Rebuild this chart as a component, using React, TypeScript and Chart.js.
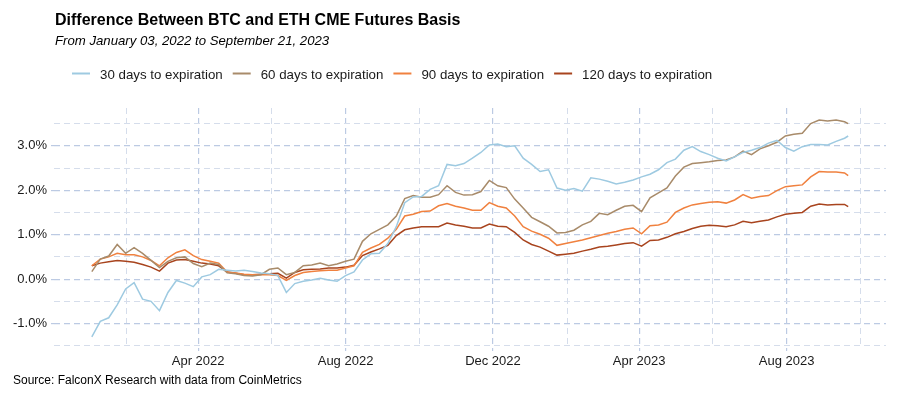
import React, { useEffect, useRef } from 'react';
import { Chart, registerables } from 'chart.js';

Chart.register(...registerables);

const FONT = '"Liberation Sans", Arial, Helvetica, sans-serif';

const TITLE = 'Difference Between BTC and ETH CME Futures Basis';
const SUBTITLE = 'From January 03, 2022 to September 21, 2023';
const CAPTION = 'Source: FalconX Research with data from CoinMetrics';

const DATES = [
  '2022-01-03', '2022-01-10', '2022-01-17', '2022-01-24', '2022-01-31',
  '2022-02-07', '2022-02-14', '2022-02-21', '2022-02-28',
  '2022-03-07', '2022-03-14', '2022-03-21', '2022-03-28',
  '2022-04-04', '2022-04-11', '2022-04-18', '2022-04-25',
  '2022-05-02', '2022-05-09', '2022-05-16', '2022-05-23', '2022-05-30',
  '2022-06-06', '2022-06-13', '2022-06-20', '2022-06-27',
  '2022-07-04', '2022-07-11', '2022-07-18', '2022-07-25',
  '2022-08-01', '2022-08-08', '2022-08-15', '2022-08-22', '2022-08-29',
  '2022-09-05', '2022-09-12', '2022-09-19', '2022-09-26',
  '2022-10-03', '2022-10-10', '2022-10-17', '2022-10-24', '2022-10-31',
  '2022-11-07', '2022-11-14', '2022-11-21', '2022-11-28',
  '2022-12-05', '2022-12-12', '2022-12-19', '2022-12-26',
  '2023-01-02', '2023-01-09', '2023-01-16', '2023-01-23', '2023-01-30',
  '2023-02-06', '2023-02-13', '2023-02-20', '2023-02-27',
  '2023-03-06', '2023-03-13', '2023-03-20', '2023-03-27',
  '2023-04-03', '2023-04-10', '2023-04-17', '2023-04-24',
  '2023-05-01', '2023-05-08', '2023-05-15', '2023-05-22', '2023-05-29',
  '2023-06-05', '2023-06-12', '2023-06-19', '2023-06-26',
  '2023-07-03', '2023-07-10', '2023-07-17', '2023-07-24', '2023-07-31',
  '2023-08-07', '2023-08-14', '2023-08-21', '2023-08-28',
  '2023-09-04', '2023-09-11', '2023-09-18', '2023-09-21',
];

const SERIES_LABELS = [
  '30 days to expiration',
  '60 days to expiration',
  '90 days to expiration',
  '120 days to expiration',
];
const SERIES_COLORS = ['#9ecae1', '#a88b6a', '#f0813f', '#a8441e'];

const D30 = [
  -1.30, -0.95, -0.87, -0.58, -0.22,
  -0.08, -0.45, -0.50, -0.71,
  -0.30, -0.03, -0.09, -0.17,
  0.05, 0.10, 0.22, 0.20,
  0.18, 0.20, 0.17, 0.14, 0.12,
  0.08, -0.30, -0.10, -0.05,
  -0.02, 0.02, -0.02, -0.05,
  0.08, 0.16, 0.43, 0.57, 0.58,
  0.80, 1.18, 1.72, 1.85,
  1.86, 2.02, 2.10, 2.58, 2.55,
  2.60, 2.72, 2.85, 3.02,
  3.04, 2.98, 3.00, 2.72,
  2.58, 2.42, 2.46, 2.05, 2.00,
  2.04, 1.98, 2.28, 2.25,
  2.20, 2.14, 2.18, 2.23,
  2.30, 2.36, 2.46, 2.62,
  2.70, 2.90, 2.98, 2.87, 2.80,
  2.72, 2.66, 2.75, 2.85,
  2.90, 2.96, 3.06, 3.12, 2.96,
  2.88, 2.98, 3.03, 3.03,
  3.02, 3.10, 3.17, 3.22,
];

const D60 = [
  0.17, 0.45, 0.52, 0.78, 0.58,
  0.71, 0.58, 0.42, 0.26,
  0.40, 0.48, 0.50, 0.35,
  0.28, 0.36, 0.33, 0.14,
  0.12, 0.08, 0.07, 0.10, 0.22,
  0.25, 0.10, 0.15, 0.30,
  0.32, 0.36, 0.30, 0.34,
  0.40, 0.45, 0.85, 1.02, 1.12,
  1.22, 1.42, 1.81, 1.88,
  1.84, 1.84, 1.90, 2.10, 1.95,
  1.89, 1.90, 1.97, 2.22,
  2.10, 2.06, 1.80, 1.60,
  1.39, 1.29, 1.19, 1.04, 1.05,
  1.10, 1.22, 1.30, 1.48,
  1.45, 1.55, 1.64, 1.66,
  1.52, 1.83, 1.94, 2.05,
  2.32, 2.52, 2.60, 2.62, 2.64,
  2.67, 2.68, 2.75, 2.88,
  2.80, 2.93, 3.00, 3.08, 3.22,
  3.26, 3.28, 3.50, 3.58,
  3.56, 3.58, 3.54, 3.50,
];

const D90 = [
  0.30, 0.45, 0.50, 0.58, 0.55,
  0.55, 0.50, 0.42, 0.30,
  0.48, 0.60, 0.66, 0.53,
  0.44, 0.40, 0.36, 0.16,
  0.14, 0.11, 0.10, 0.10, 0.10,
  0.08, -0.03, 0.08, 0.15,
  0.17, 0.19, 0.20, 0.20,
  0.25, 0.30, 0.60, 0.70, 0.78,
  0.92, 1.12, 1.42, 1.46,
  1.52, 1.53, 1.65, 1.70, 1.64,
  1.60, 1.55, 1.55, 1.72,
  1.64, 1.60, 1.42, 1.18,
  1.08, 1.01, 0.92, 0.76, 0.80,
  0.84, 0.88, 0.93, 0.98,
  1.03, 1.07, 1.12, 1.15,
  1.02, 1.20, 1.22, 1.28,
  1.50, 1.60, 1.67, 1.70, 1.73,
  1.74, 1.71, 1.78, 1.90,
  1.82, 1.86, 1.88, 1.99, 2.08,
  2.10, 2.12, 2.30, 2.42,
  2.41, 2.41, 2.39, 2.33,
];

const D120 = [
  0.30, 0.36, 0.39, 0.42, 0.40,
  0.38, 0.33, 0.27, 0.18,
  0.36, 0.43, 0.44, 0.40,
  0.36, 0.34, 0.30, 0.16,
  0.13, 0.10, 0.10, 0.11, 0.12,
  0.13, 0.02, 0.15, 0.21,
  0.22, 0.23, 0.25, 0.25,
  0.27, 0.31, 0.53, 0.61, 0.68,
  0.76, 0.98, 1.11, 1.15,
  1.18, 1.18, 1.18, 1.26, 1.22,
  1.19, 1.15, 1.15, 1.24,
  1.19, 1.18, 1.05, 0.88,
  0.78, 0.72, 0.63, 0.54, 0.56,
  0.58, 0.63, 0.67, 0.72,
  0.74, 0.77, 0.80, 0.82,
  0.74, 0.87, 0.88, 0.94,
  1.02, 1.07, 1.14, 1.19, 1.21,
  1.20, 1.18, 1.22, 1.30,
  1.27, 1.30, 1.33, 1.40, 1.46,
  1.48, 1.50, 1.64, 1.69,
  1.67, 1.68, 1.68, 1.63,
];

const SERIES_VALUES = [D30, D60, D90, D120];

const Y_TICKS = [-1.5, -1, -0.5, 0, 0.5, 1, 1.5, 2, 2.5, 3, 3.5];
const Y_TICK_LABELS = ['', '-1.0%', '', '0.0%', '', '1.0%', '', '2.0%', '', '3.0%', ''];
const Y_MIN = -1.55;
const Y_MAX = 3.85;

const X_TICK_DATES = [
  '2022-02-01', '2022-04-01', '2022-06-01', '2022-08-01', '2022-10-01', '2022-12-01',
  '2023-02-01', '2023-04-01', '2023-06-01', '2023-08-01', '2023-10-01',
];
const X_TICK_LABELS = ['', 'Apr 2022', '', 'Aug 2022', '', 'Dec 2022', '', 'Apr 2023', '', 'Aug 2023', ''];

const GRID_MAJOR = '#bccae3';
const GRID_MINOR = '#d5ddeb';
const TEXT = '#1a1a1a';

function toDay(s: string): number {
  const [y, m, d] = s.split('-').map(Number);
  return Date.UTC(y, m - 1, d) / 86400000;
}

const textPlugin = {
  id: 'ggTexts',
  afterDraw(chart: any) {
    const ctx = chart.ctx as CanvasRenderingContext2D;
    ctx.save();
    ctx.fillStyle = '#000';
    ctx.textAlign = 'left';
    ctx.textBaseline = 'alphabetic';
    ctx.font = `bold 16px ${FONT}`;
    ctx.fillText(TITLE, 55, 25);
    ctx.font = `italic 13.2px ${FONT}`;
    ctx.fillText(SUBTITLE, 55, 45);

    ctx.font = `13.3px ${FONT}`;
    ctx.fillStyle = TEXT;
    let x = 72;
    chart.data.datasets.forEach((ds: any) => {
      ctx.strokeStyle = ds.borderColor;
      ctx.lineWidth = 2;
      ctx.beginPath();
      ctx.moveTo(x, 73.5);
      ctx.lineTo(x + 18, 73.5);
      ctx.stroke();
      ctx.fillText(ds.label, x + 28, 79);
      x += 28 + ctx.measureText(ds.label).width + 10;
    });

    ctx.font = `12px ${FONT}`;
    ctx.fillStyle = '#000';
    ctx.fillText(CAPTION, 13, 384);
    ctx.restore();
  },
};

export default function App() {
  const ref = useRef<HTMLCanvasElement | null>(null);

  useEffect(() => {
    if (!ref.current) return;
    const days = DATES.map(toDay);
    const first = days[0];
    const last = days[days.length - 1];
    const span = last - first;
    const xMin = first - span * 0.05;
    const xMax = last + span * 0.05;

    const datasets = SERIES_LABELS.map((label, si) => ({
      label,
      data: DATES.map((d, i) => ({ x: toDay(d), y: SERIES_VALUES[si][i] })),
      borderColor: SERIES_COLORS[si],
      backgroundColor: SERIES_COLORS[si],
      borderWidth: 1.5,
      pointRadius: 0,
      tension: 0,
      fill: false,
    }));

    const chart = new Chart(ref.current, {
      type: 'line',
      data: { datasets },
      options: {
        animation: false,
        responsive: false,
        maintainAspectRatio: false,
        layout: { padding: { top: 108, right: 14, bottom: 0, left: 0 } },
        plugins: {
          legend: { display: false },
          title: { display: false },
          tooltip: { enabled: false },
        },
        scales: {
          x: {
            type: 'linear',
            min: xMin,
            max: xMax,
            afterBuildTicks: (s: any) => {
              s.ticks = X_TICK_DATES.map((d) => ({ value: toDay(d) }));
            },
            afterFit: (s: any) => {
              s.height = 52;
            },
            ticks: {
              autoSkip: false,
              maxRotation: 0,
              minRotation: 0,
              padding: 3,
              color: TEXT,
              font: { family: FONT, size: 13 },
              callback: (_v: any, i: number) => X_TICK_LABELS[i],
            },
            grid: {
              color: (c: any) => (X_TICK_LABELS[c.index] ? GRID_MAJOR : GRID_MINOR),
              lineWidth: (c: any) => (X_TICK_LABELS[c.index] ? 1.2 : 1),
              drawTicks: true,
              tickLength: 3,
              tickColor: (c: any) => (X_TICK_LABELS[c.index] ? GRID_MAJOR : 'rgba(0,0,0,0)'),
            },
            border: { display: false, dash: [6, 4] },
          },
          y: {
            type: 'linear',
            min: Y_MIN,
            max: Y_MAX,
            afterBuildTicks: (s: any) => {
              s.ticks = Y_TICKS.map((v) => ({ value: v }));
            },
            afterFit: (s: any) => {
              s.width = 54;
            },
            ticks: {
              padding: 4,
              color: TEXT,
              font: { family: FONT, size: 13 },
              callback: (_v: any, i: number) => Y_TICK_LABELS[i],
            },
            grid: {
              color: (c: any) => (Y_TICK_LABELS[c.index] ? GRID_MAJOR : GRID_MINOR),
              lineWidth: (c: any) => (Y_TICK_LABELS[c.index] ? 1.2 : 1),
              drawTicks: true,
              tickLength: 3,
              tickColor: (c: any) => (Y_TICK_LABELS[c.index] ? GRID_MAJOR : 'rgba(0,0,0,0)'),
            },
            border: { display: false, dash: [6, 4] },
          },
        },
      } as any,
      plugins: [textPlugin],
    });

    return () => chart.destroy();
  }, []);

  return (
    <div style={{ position: 'absolute', left: 0, top: 0, width: 900, height: 400, background: '#fff' }}>
      <canvas ref={ref} width={900} height={400} style={{ display: 'block', width: 900, height: 400 }} />
    </div>
  );
}
